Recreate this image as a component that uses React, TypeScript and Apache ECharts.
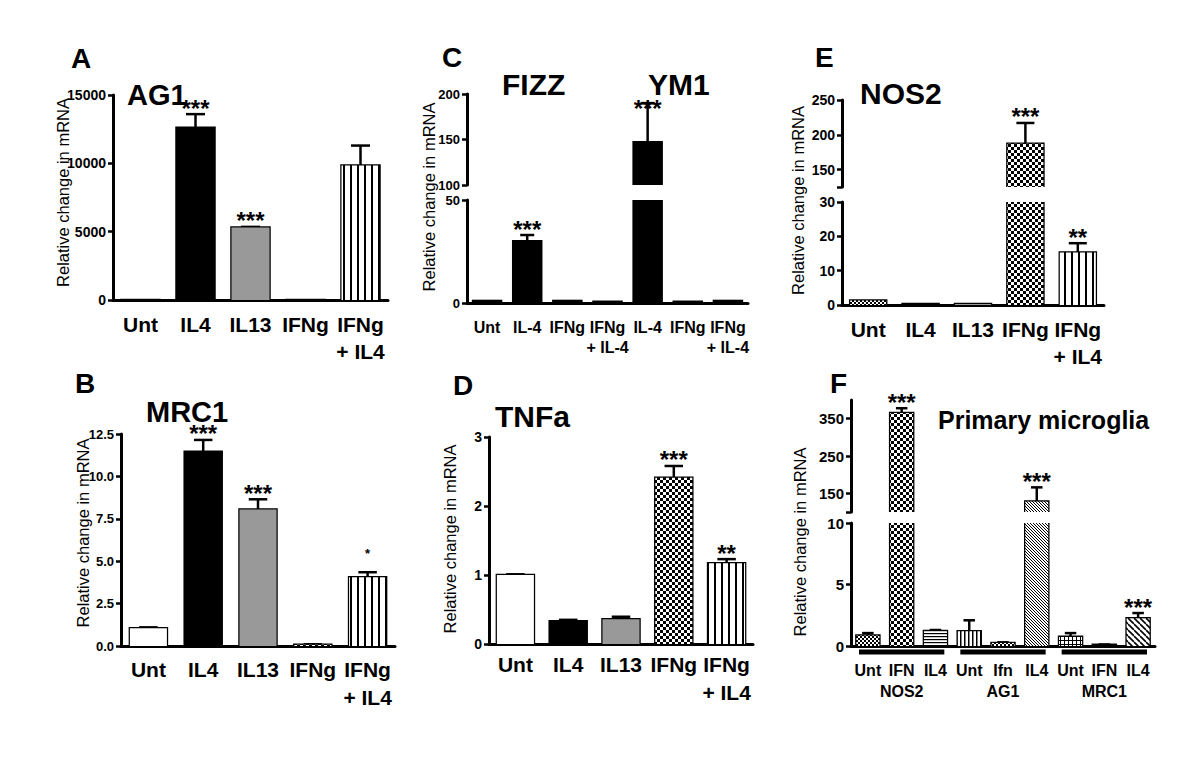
import React, { useEffect, useRef } from 'react';
import * as echarts from 'echarts';

// ---------------- data ----------------
const catsStd = ['Unt', 'IL4', 'IL13', 'IFNg', 'IFNg\n+ IL4'];
const fillStd = ['white', 'black', 'gray', 'checker', 'vstripe'];

const ag1Values = [1, 12600, 5300, 2, 9850];
const ag1Err = [0, 1000, 50, 0, 1450];
const ag1Stars = ['', '***', '***', '', ''];

const mrc1Values = [1.05, 11.45, 8.05, 0.08, 4.05];
const mrc1Err = [0.05, 0.7, 0.6, 0.02, 0.3];
const mrc1Stars = ['', '***', '***', '', '*'];

const fyCats = ['Unt', 'IL-4', 'IFNg', 'IFNg\n+ IL-4', 'IL-4', 'IFNg', 'IFNg\n+ IL-4'];
const fyFill = ['black', 'black', 'black', 'black', 'black', 'black', 'black'];
const fyValues = [1, 30, 1, 0.6, 147, 0.6, 1];
const fyErr = [0, 3, 0, 0, 43, 0, 0];
const fyStars = ['', '***', '', '', '***', '', ''];

const tnfValues = [1.0, 0.33, 0.36, 2.41, 1.17];
const tnfErr = [0.01, 0.02, 0.035, 0.17, 0.06];
const tnfStars = ['', '', '', '***', '**'];

const nosValues = [1.3, 0.3, 0.3, 187, 15.3];
const nosErr = [0, 0, 0, 30, 2.7];
const nosStars = ['', '', '', '***', '**'];
const nosFill = ['finecheck', 'black', 'gray', 'checker', 'vstripe'];

const pmCats = ['Unt', 'IFN', 'IL4', 'Unt', 'Ifn', 'IL4', 'Unt', 'IFN', 'IL4'];
const pmGroups = ['NOS2', 'AG1', 'MRC1'];
const pmValues = [0.85, 365, 1.22, 1.2, 0.25, 128, 0.75, 0.1, 2.25];
const pmErr = [0.2, 13, 0.08, 0.89, 0.05, 38, 0.3, 0.02, 0.43];
const pmStars = ['', '***', '', '', '', '***', '', '', '***'];
const pmFill = ['finecheck', 'checker', 'hstripe', 'vstripeFine', 'finecheck', 'diagFine', 'grid', 'black', 'diagCoarse'];

const nosUpperLabels = [150, 200, 250];
const nosUpperTicks = [125, 150, 200, 250];
const pmUpperLabels = [150, 250, 350];
const pmUpperTicks = [100, 150, 250, 350];

const panelLetters = ['A', 'B', 'C', 'D', 'E', 'F'];
const panelTitles = ['AG1', 'MRC1', 'FIZZ', 'YM1', 'TNFa', 'NOS2', 'Primary microglia'];
const yTitle = 'Relative change in mRNA';

// ---------------- styling / layout ----------------
const FONT = '"Liberation Sans", Arial, Helvetica, sans-serif';

function makePattern(kind: string): any {
  const specs: Record<string, [number, number, (c: CanvasRenderingContext2D) => void]> = {
    checker: [6, 6, (c) => { c.fillRect(0, 0, 3, 3); c.fillRect(3, 3, 3, 3); }],
    finecheck: [4, 4, (c) => { c.fillRect(0, 0, 2, 2); c.fillRect(2, 2, 2, 2); }],
    vstripe: [7, 4, (c) => { c.fillRect(0, 0, 2, 4); }],
    vstripeFine: [4, 4, (c) => { c.fillRect(0, 0, 1.5, 4); }],
    hstripe: [4, 3, (c) => { c.fillRect(0, 0, 4, 1.2); }],
    grid: [4, 4, (c) => { c.fillRect(0, 0, 4, 1); c.fillRect(0, 0, 1, 4); }],
    diagFine: [3, 3, (c) => { for (let i = 0; i < 3; i++) c.fillRect(i, i, 1, 1); }],
    diagCoarse: [6, 6, (c) => {
      c.lineWidth = 1.6;
      for (const k of [-6, 0, 6]) { c.beginPath(); c.moveTo(0, k); c.lineTo(6, 6 + k); c.stroke(); }
    }],
  };
  const s = specs[kind];
  const cv = document.createElement('canvas');
  cv.width = s[0];
  cv.height = s[1];
  const ctx = cv.getContext('2d')!;
  ctx.fillStyle = '#fff';
  ctx.fillRect(0, 0, s[0], s[1]);
  ctx.fillStyle = '#000';
  ctx.strokeStyle = '#000';
  s[2](ctx);
  return { image: cv.toDataURL(), repeat: 'repeat', imageWidth: s[0], imageHeight: s[1] };
}

interface Seg { left: number; top: number; width: number; height: number; min: number; max: number; interval?: number; labels?: number[]; ticks?: number[]; bottom: boolean; }
interface Panel {
  cats: string[]; values: number[]; err: number[]; stars: string[]; fills: string[];
  barWidth: number; xFont: number; xLine: number; xMargin: number; yFont: number;
  yFmt: (v: number) => string; segs: Seg[]; groups?: string[]; starGap?: number[];
}

function buildOption(fillOf: (k: string) => any) {
  const intFmt = (v: number) => String(v);
  const panels: Panel[] = [
    { cats: catsStd, values: ag1Values, err: ag1Err, stars: ag1Stars, fills: fillStd, barWidth: 38, xFont: 21, xLine: 27, xMargin: 11, yFont: 14, yFmt: intFmt,
      segs: [{ left: 113, top: 95, width: 275, height: 205, min: 0, max: 15000, interval: 5000, bottom: true }] },
    { cats: catsStd, values: mrc1Values, err: mrc1Err, stars: mrc1Stars, fills: fillStd, barWidth: 37, xFont: 21, xLine: 28, xMargin: 9, yFont: 13, yFmt: (v) => v.toFixed(1),
      segs: [{ left: 121, top: 434, width: 274, height: 212, min: 0, max: 12.5, interval: 2.5, bottom: true }] },
    { cats: fyCats, values: fyValues, err: fyErr, stars: fyStars, fills: fyFill, barWidth: 28, xFont: 16, xLine: 20, xMargin: 14, yFont: 13, yFmt: intFmt,
      starGap: [11, 11, 11, 11, 0, 11, 11],
      segs: [
        { left: 467, top: 200, width: 281, height: 103, min: 0, max: 50, interval: 50, bottom: true },
        { left: 467, top: 94, width: 281, height: 91, min: 100, max: 200, interval: 50, bottom: false },
      ] },
    { cats: catsStd, values: tnfValues, err: tnfErr, stars: tnfStars, fills: fillStd, barWidth: 37, xFont: 21, xLine: 28, xMargin: 6, yFont: 14, yFmt: intFmt,
      segs: [{ left: 489, top: 437, width: 264, height: 207, min: 0, max: 3, interval: 1, bottom: true }] },
    { cats: catsStd, values: nosValues, err: nosErr, stars: nosStars, fills: nosFill, barWidth: 36, xFont: 21, xLine: 27, xMargin: 11, yFont: 14, yFmt: intFmt,
      segs: [
        { left: 842, top: 202, width: 262, height: 103, min: 0, max: 30, interval: 10, bottom: true },
        { left: 842, top: 100, width: 262, height: 87, min: 125, max: 250, labels: nosUpperLabels, ticks: nosUpperTicks, bottom: false },
      ] },
    { cats: pmCats, values: pmValues, err: pmErr, stars: pmStars, fills: pmFill, barWidth: 23, xFont: 16, xLine: 20, xMargin: 14, yFont: 15, yFmt: intFmt, groups: pmGroups,
      segs: [
        { left: 851, top: 523, width: 304, height: 123, min: 0, max: 10, interval: 5, bottom: true },
        { left: 851, top: 400, width: 304, height: 112, min: 100, max: 400, labels: pmUpperLabels, ticks: pmUpperTicks, bottom: false },
      ] },
  ];

  const grids: any[] = [];
  const xAxes: any[] = [];
  const yAxes: any[] = [];
  const series: any[] = [];
  const lineStyle = { stroke: '#000', lineWidth: 2.5 };

  panels.forEach((p) => {
    p.segs.forEach((seg) => {
      const gi = grids.length;
      grids.push({ left: seg.left, top: seg.top, width: seg.width, height: seg.height, containLabel: false, outerBoundsMode: 'none' });
      const xi = xAxes.length;
      xAxes.push({
        type: 'category', gridIndex: gi, data: p.cats, show: seg.bottom, position: 'bottom',
        axisLine: { show: true, onZero: false, lineStyle: { color: '#000', width: 3 } },
        axisTick: { show: false },
        axisLabel: { interval: 0, color: '#000', fontFamily: FONT, fontWeight: 'bold', fontSize: p.xFont, lineHeight: p.xLine, margin: p.xMargin },
        splitLine: { show: false },
      });
      const yi = yAxes.length;
      const tick: any = { show: true, length: 5, lineStyle: { color: '#000', width: 2.5 } };
      if (seg.ticks) tick.customValues = seg.ticks;
      const lab: any = { color: '#000', fontFamily: FONT, fontWeight: 'bold', fontSize: p.yFont, margin: 7, formatter: p.yFmt };
      if (seg.labels) lab.customValues = seg.labels;
      yAxes.push({
        type: 'value', gridIndex: gi, min: seg.min, max: seg.max, interval: seg.interval,
        axisLine: { show: true, lineStyle: { color: '#000', width: 3 } },
        axisTick: tick, axisLabel: lab, splitLine: { show: false },
      });
      // bar fills (outlines drawn below so that broken edges stay open)
      series.push({
        type: 'bar', xAxisIndex: xi, yAxisIndex: yi, barWidth: p.barWidth, silent: true,
        emphasis: { disabled: true },
        itemStyle: { borderWidth: 0 },
        data: p.values.map((v, i) => ({ value: v, itemStyle: { color: fillOf(p.fills[i]) } })),
      });
      const cap = p.barWidth * 0.5;
      const bw = p.barWidth;
      series.push({
        type: 'custom', xAxisIndex: xi, yAxisIndex: yi, silent: true,
        data: p.values.map((v, i) => [i, v, p.err[i]]),
        renderItem: (params: any, api: any) => {
          const i = api.value(0);
          const v = api.value(1);
          const e = api.value(2);
          const idx = params.dataIndex;
          const star = p.stars[idx];
          const children: any[] = [];
          // outline
          if (v > seg.min) {
            const clipTop = v > seg.max;
            const clipBot = seg.min > 0;
            const cTop = api.coord([i, Math.min(v, seg.max)]);
            const cBot = api.coord([i, Math.max(0, seg.min)]);
            const x0 = cTop[0] - bw / 2;
            const x1 = cTop[0] + bw / 2;
            const yT = cTop[1];
            const yB = cBot[1];
            if (!clipTop && !clipBot) {
              children.push({ type: 'polygon', shape: { points: [[x0, yB], [x0, yT], [x1, yT], [x1, yB]] }, style: { ...lineStyle, fill: 'none' } });
            } else if (!clipTop) {
              children.push({ type: 'polyline', shape: { points: [[x0, yB], [x0, yT], [x1, yT], [x1, yB]] }, style: { ...lineStyle, fill: 'none' } });
            } else if (!clipBot) {
              children.push({ type: 'polyline', shape: { points: [[x0, yT], [x0, yB], [x1, yB], [x1, yT]] }, style: { ...lineStyle, fill: 'none' } });
            } else {
              children.push({ type: 'line', shape: { x1: x0, y1: yT, x2: x0, y2: yB }, style: lineStyle });
              children.push({ type: 'line', shape: { x1: x1, y1: yT, x2: x1, y2: yB }, style: lineStyle });
            }
          }
          const top = v + e;
          if ((e > 0 || star) && top <= seg.max + 1e-9 && top >= seg.min) {
            const pt = api.coord([i, top]);
            const pb = api.coord([i, Math.max(v, seg.min)]);
            if (e > 0) {
              children.push({ type: 'line', shape: { x1: pt[0], y1: pb[1], x2: pt[0], y2: pt[1] }, style: { stroke: '#000', lineWidth: 2.5 } });
              children.push({ type: 'line', shape: { x1: pt[0] - cap / 2, y1: pt[1], x2: pt[0] + cap / 2, y2: pt[1] }, style: { stroke: '#000', lineWidth: 2.5 } });
            }
            if (star) {
              const small = star.length === 1;
              const gap = p.starGap ? p.starGap[idx] : 11;
              children.push({
                type: 'text', x: pt[0], y: pt[1] - (small ? 19 : gap - 5),
                style: { text: star, fontSize: small ? 13 : 24, lineHeight: small ? 6 : 10, fontWeight: 'bold', fontFamily: FONT, fill: '#000', align: 'center', verticalAlign: 'middle', textAlign: 'center', textVerticalAlign: 'middle' },
              });
            }
          }
          return { type: 'group', children };
        },
      });
      if (p.groups && seg.bottom) {
        const gx = xAxes.length;
        xAxes.push({
          type: 'category', gridIndex: gi, data: p.groups, position: 'bottom',
          axisLine: { show: false }, axisTick: { show: false }, splitLine: { show: false },
          axisLabel: { interval: 0, color: '#000', fontFamily: FONT, fontWeight: 'bold', fontSize: 16, margin: 37 },
        });
        series.push({
          type: 'custom', xAxisIndex: gx, yAxisIndex: yi, silent: true, clip: false,
          data: p.groups.map((g, i) => [i, 0]),
          renderItem: (params: any, api: any) => {
            const c = api.coord([api.value(0), 0]);
            const w = api.size([1, 0])[0];
            return { type: 'line', shape: { x1: c[0] - w / 2 + 8, y1: c[1] + 6, x2: c[0] + w / 2 - 8, y2: c[1] + 6 }, style: { stroke: '#000', lineWidth: 5 } };
          },
        });
      }
    });
  });

  const txt = (text: string, x: number, y: number, size: number, weight: string, align = 'left', rotation = 0, lh?: number) => ({
    type: 'text', x, y, rotation, silent: true,
    style: { text, fontSize: size, lineHeight: lh ?? size, fontWeight: weight, fontFamily: FONT, fill: '#000', align, verticalAlign: 'middle', textAlign: align, textVerticalAlign: 'middle' },
  });

  const letterPos = [[71, 58], [75, 383], [442, 57], [453, 385], [815, 57], [830, 383]];
  const titlePos = [[127, 95, 29], [146, 412, 29], [502, 84, 30], [648, 84, 30], [495, 416, 30], [860, 93, 30], [938, 420, 25]];
  const yTitlePos = [[62.5, 192.5], [82.5, 533], [428.5, 197], [449.5, 539], [797.5, 200.5], [800, 542]];

  const graphic: any[] = [];
  panelLetters.forEach((l, i) => graphic.push(txt(l, letterPos[i][0], letterPos[i][1], 28, 'bold', 'left', 0, 22)));
  panelTitles.forEach((t, i) => graphic.push(txt(t, titlePos[i][0], titlePos[i][1], titlePos[i][2], 'bold', 'left', 0, Math.round(titlePos[i][2] * 0.7))));
  yTitlePos.forEach((pp) => graphic.push(txt(yTitle, pp[0], pp[1], 16.5, 'normal', 'center', Math.PI / 2)));

  return {
    animation: false,
    backgroundColor: '#fff',
    grid: grids,
    xAxis: xAxes,
    yAxis: yAxes,
    series,
    graphic,
  };
}

export default function App() {
  const ref = useRef<HTMLDivElement>(null);
  useEffect(() => {
    if (!ref.current) return;
    const cache: Record<string, any> = {};
    const fillOf = (k: string) => {
      if (k === 'white') return '#ffffff';
      if (k === 'black') return '#000000';
      if (k === 'gray') return '#999999';
      if (!cache[k]) cache[k] = makePattern(k);
      return cache[k];
    };
    const chart = echarts.init(ref.current, undefined, { renderer: 'svg' });
    chart.setOption(buildOption(fillOf) as any);
    return () => chart.dispose();
  }, []);
  return (
    <div
      ref={ref}
      style={{ position: 'absolute', left: 0, top: 0, width: 1200, height: 758, background: '#fff' }}
    />
  );
}
